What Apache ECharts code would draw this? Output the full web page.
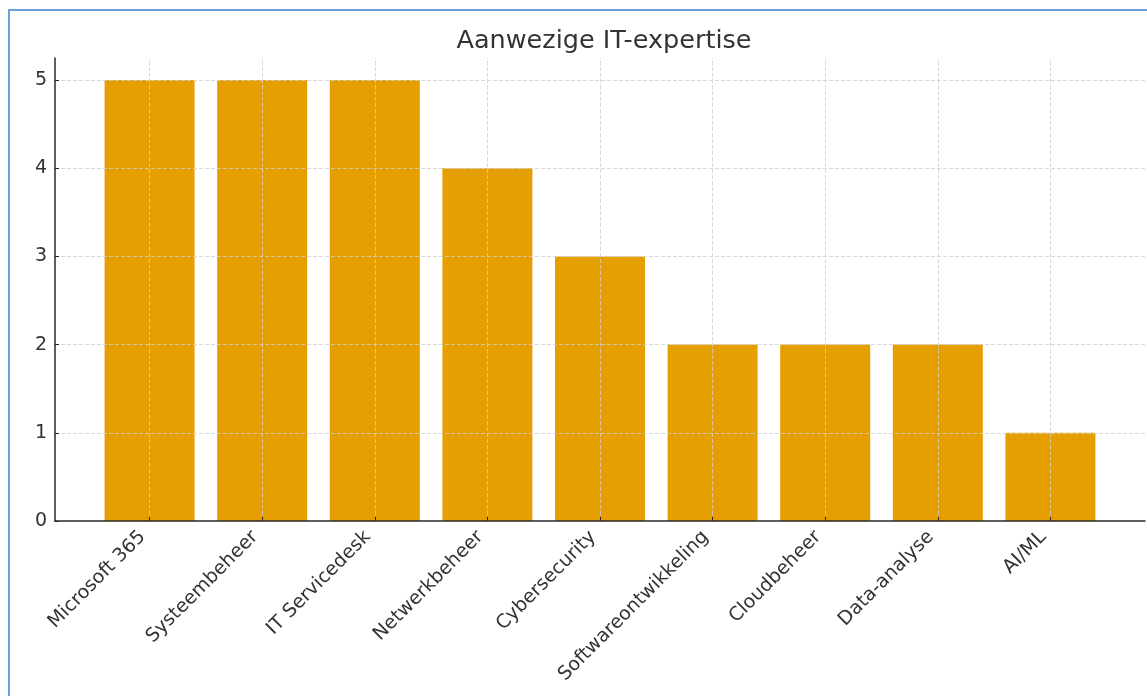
<!DOCTYPE html>
<html>
<head>
<meta charset="utf-8">
<script src="https://cdn.jsdelivr.net/npm/echarts@6/dist/echarts.min.js"></script>
<style>
  html, body { margin: 0; padding: 0; background: #fff; }
  #frame { position: absolute; left: 8px; top: 9px; width: 1300px; height: 900px; border: 2px solid #6a9fd9; }
  #chart { position: absolute; left: 0; top: 0; width: 1147px; height: 696px; }
</style>
</head>
<body>
<div id="frame"></div>
<div id="chart"></div>
<script>
// categorieën en aantallen
const categories = ["Microsoft 365", "Systeembeheer", "IT Servicedesk", "Netwerkbeheer", "Cybersecurity",
  "Softwareontwikkeling", "Cloudbeheer", "Data-analyse", "AI/ML"];
const counts = [5, 5, 5, 4, 3, 2, 2, 2, 1];
const yTicks = [0, 1, 2, 3, 4, 5];

const positions = categories.map((c, i) => i);
const gridLine = { color: "#cfcfcf", width: 0.8, type: [4, 2] };

var myChart = echarts.init(document.getElementById("chart"));
var option = {
  backgroundColor: "transparent",
  animation: false,
  title: {
    text: "Aanwezige IT-expertise",
    left: 599, top: 23, textAlign: "center",
    textStyle: { fontFamily: "DejaVu Sans", fontSize: 25.5, fontWeight: "normal", color: "#333" }
  },
  grid: { left: 55, right: 2, top: 58, bottom: 175 },
  xAxis: {
    type: "value", min: -0.84, max: 8.84, z: 5,
    axisLine: { show: true, lineStyle: { color: "#2a2a2a", width: 1.5 } },
    axisTick: { show: true, inside: true, length: 4, customValues: positions, lineStyle: { color: "#2a2a2a" } },
    axisLabel: {
      customValues: positions, rotate: 45, margin: 6, padding: [0, 10, 0, 0],
      fontFamily: "DejaVu Sans", fontSize: 19, color: "#333",
      formatter: (v) => categories[Math.round(v)]
    },
    splitLine: { show: false }
  },
  yAxis: {
    type: "value", min: 0, max: 5.25, z: 5,
    axisLine: { show: true, onZero: false, lineStyle: { color: "#2a2a2a", width: 1.5 } },
    axisTick: { show: true, inside: true, length: 4, customValues: yTicks, lineStyle: { color: "#2a2a2a" } },
    axisLabel: { customValues: yTicks, margin: 8, fontFamily: "DejaVu Sans", fontSize: 19, color: "#333" },
    splitLine: { show: false }
  },
  series: [{
    type: "bar",
    barWidth: 90,
    itemStyle: { color: "#E69F00" },
    data: counts.map((v, i) => [positions[i], v]),
    markLine: {
      silent: true, symbol: "none", z: 4,
      label: { show: false },
      lineStyle: gridLine,
      data: positions.map((p) => ({ xAxis: p })).concat(yTicks.slice(1).map((t) => ({ yAxis: t })))
    }
  }]
};
myChart.setOption(option);
</script>
</body>
</html>
